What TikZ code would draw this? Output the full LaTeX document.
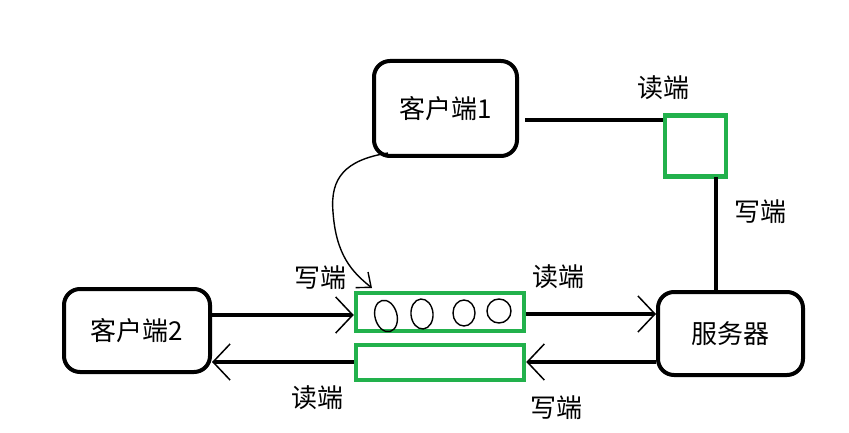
\documentclass[tikz,border=0pt]{standalone}
\usepackage{fontspec}
\newfontfamily\cjk{Noto Sans CJK SC}
\usetikzlibrary{arrows.meta}
\definecolor{pgreen}{HTML}{22B14C}
\tikzset{
  cbox/.style={draw=black, line width=4pt, rounded corners=16pt, font=\cjk\fontsize{26}{30}\selectfont, inner sep=0pt},
  gbox/.style={draw=pgreen, line width=4.5pt, inner sep=0pt},
  wire/.style={draw=black, line width=4pt},
  arr/.style={wire, -{Straight Barb[length=17pt,width=36pt,line width=1.5pt]}},
  lbl/.style={font=\cjk\fontsize{26}{30}\selectfont, inner sep=0pt},
  thin/.style={draw=black, line width=1.4pt}
}
\begin{document}
\begin{tikzpicture}[x=1pt,y=-1pt]
\useasboundingbox[fill=white] (0,0) rectangle (849,433);
% boxes
\node[cbox, minimum width=143pt, minimum height=95pt] (c1) at (445.5,108.5) {客户端1};
\node[cbox, minimum width=146pt, minimum height=83pt] (c2) at (137,330.5) {客户端2};
\node[cbox, minimum width=145pt, minimum height=83pt] (srv) at (730.5,333.5) {服务器};
\node[gbox, minimum size=61pt] (rs) at (695.5,146) {};
\node[gbox, minimum width=168pt, minimum height=38pt] (up) at (440,312) {};
\node[gbox, minimum width=168pt, minimum height=35pt] (lo) at (440,362.5) {};
% top connections
\coordinate (a1) at (525,120);
\draw[wire] (a1) -- (rs.west |- a1);
\coordinate (v1) at (716,177);
\draw[wire] (v1) -- (v1 |- srv.north);
% pipe arrows
\draw[arr] (c2.east |- 0,315) -- (up.west |- 0,315);
\draw[arr] (up.east |- 0,314) -- (srv.west |- 0,314);
\draw[arr] (srv.west |- 0,362) -- (lo.east |- 0,362);
\draw[arr] (lo.west |- 0,362) -- (c2.east |- 0,362);
% curved arrow
\coordinate (k0) at (388,153);
\coordinate (k1) at (372,288);
\draw[thin, -{Straight Barb[length=12pt,width=20pt,line width=1.4pt]}] (k0) .. controls (345,160) and (330,178) .. (333,212) .. controls (336,255) and (352,272) .. (k1);
% data blobs
\draw[thin] (386,316) ellipse [x radius=11, y radius=16, rotate=15];
\draw[thin] (422,314) ellipse [x radius=11, y radius=15, rotate=5];
\draw[thin] (464,313) ellipse [x radius=11, y radius=13];
\draw[thin] (499,311) ellipse [x radius=12, y radius=12];
% labels
\node[lbl] (l1) at (663,88) {读端};
\node[lbl] (l2) at (760,212) {写端};
\node[lbl] (l3) at (320,278) {写端};
\node[lbl] (l4) at (558,277) {读端};
\node[lbl] (l5) at (317,398) {读端};
\node[lbl] (l6) at (556,408) {写端};
\end{tikzpicture}
\end{document}
